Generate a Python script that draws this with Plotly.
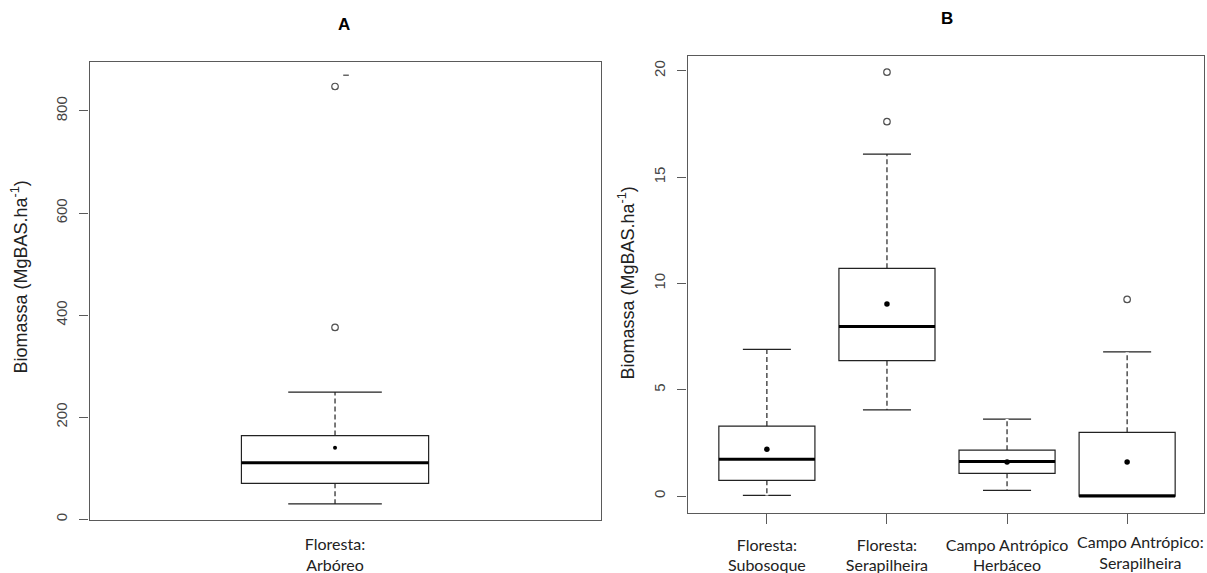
import plotly.graph_objects as go

# ---------------- data ----------------
# Panel A
cats_A = ["Floresta:<br>Arbóreo"]
pos_A = [1]
A_low = [30]
A_q1 = [70.5]
A_med = [111]
A_q3 = [164]
A_up = [249]
A_mean = [140]
A_out_x = [1, 1]
A_out_y = [376, 848]
A_stray_x = [1.047]
A_stray_y = [870]

# Panel B
cats_B = ["Floresta:<br>Subosoque", "Floresta:<br>Serapilheira",
          "Campo Antrópico<br>Herbáceo", "Campo Antrópico:<br>Serapilheira"]
pos_B = [1, 2, 3, 4]
B_low = [0.03, 4.05, 0.27, 0.0]
B_q1 = [0.74, 6.37, 1.07, 0.0]
B_med = [1.73, 7.97, 1.63, 0.0]
B_q3 = [3.29, 10.71, 2.16, 3.0]
B_up = [6.9, 16.08, 3.62, 6.78]
B_mean = [2.2, 9.04, 1.6, 1.6]
B_out_x = [2, 2, 4]
B_out_y = [17.61, 19.94, 9.25]

ticks_A = [0, 200, 400, 600, 800]
ticks_B = [0, 5, 10, 15, 20]

BOXW = 0.8
BOX_LINE = "#222222"
FRAME = "#5a5a5a"

fig = go.Figure()


def add_panel(xa, ya, pos, low, q1, med, q3, up, mean, ox, oy, mean_size):
    fig.add_trace(go.Box(
        x=pos, lowerfence=low, q1=q1, median=med, q3=q3, upperfence=up,
        width=BOXW, whiskerwidth=0.5, boxpoints=False,
        fillcolor="white", line=dict(color=BOX_LINE, width=1.2),
        xaxis=xa, yaxis=ya, showlegend=False, hoverinfo="skip"))
    # dashed whiskers: white dash overlay over the solid whisker
    wx, wy = [], []
    for p, lo, a, b, hi in zip(pos, low, q1, q3, up):
        if hi > b:
            wx += [p, p, None]
            wy += [b, hi, None]
        if lo < a:
            wx += [p, p, None]
            wy += [a, lo, None]
    fig.add_trace(go.Scatter(
        x=wx, y=wy, mode="lines",
        line=dict(color="white", width=3, dash="0px,5px,3px,0px"),
        xaxis=xa, yaxis=ya, showlegend=False, hoverinfo="skip"))
    # thick median
    mx, my = [], []
    for p, m in zip(pos, med):
        mx += [p - BOXW / 2, p + BOXW / 2, None]
        my += [m, m, None]
    fig.add_trace(go.Scatter(
        x=mx, y=my, mode="lines", line=dict(color="black", width=3),
        xaxis=xa, yaxis=ya, showlegend=False, hoverinfo="skip"))
    # means
    fig.add_trace(go.Scatter(
        x=pos, y=mean, mode="markers",
        marker=dict(color="black", size=mean_size, symbol="circle"),
        xaxis=xa, yaxis=ya, showlegend=False, hoverinfo="skip"))
    # outliers
    fig.add_trace(go.Scatter(
        x=ox, y=oy, mode="markers",
        marker=dict(symbol="circle-open", size=6.5, color="#505050",
                    line=dict(width=1.2, color="#505050")),
        xaxis=xa, yaxis=ya, showlegend=False, hoverinfo="skip"))


add_panel("x", "y", pos_A, A_low, A_q1, A_med, A_q3, A_up, A_mean,
          A_out_x, A_out_y, 4)
fig.add_trace(go.Scatter(
    x=A_stray_x, y=A_stray_y, mode="markers",
    marker=dict(symbol="line-ew", size=4, line=dict(width=1.5, color="#666")),
    showlegend=False, hoverinfo="skip"))
add_panel("x2", "y2", pos_B, B_low, B_q1, B_med, B_q3, B_up, B_mean,
          B_out_x, B_out_y, 5.5)

ytick_font = dict(family="Liberation Sans, Arial, sans-serif", size=15, color="#444444")
xtick_font = dict(family="Lato, sans-serif", size=16, color="#222222")

common_y = dict(showgrid=False, zeroline=False, showline=True, mirror=True,
                linecolor=FRAME, linewidth=1.3, ticks="outside", ticklen=9,
                tickcolor=FRAME, tickwidth=1, tickangle=-90, tickfont=ytick_font,
                ticklabelstandoff=6, automargin=False)
common_x = dict(showgrid=False, zeroline=False, showline=True, mirror=True,
                linecolor=FRAME, linewidth=1.3, tickfont=xtick_font,
                tickangle=0, automargin=False)

# the last category label sits a little right of its tick in the original,
# so it is drawn as an annotation anchored on that tick
ticktext_B = cats_B[:3] + [""]

fig.update_layout(
    width=1207, height=573,
    margin=dict(l=0, r=0, t=0, b=0, autoexpand=False),
    paper_bgcolor="white", plot_bgcolor="white",
    xaxis=dict(domain=[0.0742, 0.498], range=[-0.049, 2.137],
               tickvals=pos_A, ticktext=cats_A, ticks="", ticklabelstandoff=10,
               **common_x),
    yaxis=dict(domain=[0.0925, 0.8918], range=[-1.4, 896], tickvals=ticks_A,
               **common_y),
    xaxis2=dict(domain=[0.5697, 0.9975], range=[0.34, 4.64], anchor="y2",
                tickvals=pos_B, ticktext=ticktext_B, ticks="outside", ticklen=10,
                tickcolor=FRAME, ticklabelstandoff=7, **common_x),
    yaxis2=dict(domain=[0.1042, 0.9023], range=[-0.81, 20.7], anchor="x2",
                tickvals=ticks_B, **common_y),
)

fig.add_annotation(text=cats_B[3], x=pos_B[3], xref="x2", xshift=13,
                   y=1 - 551.5 / 573, yref="paper", showarrow=False,
                   font=xtick_font, xanchor="center", yanchor="middle", borderpad=0)

title_font = dict(family="Liberation Sans, Arial, sans-serif", size=17, color="black")
ylab_font = dict(family="Liberation Sans, Arial, sans-serif", size=18, color="#222222")
fig.add_annotation(text="<b>A</b>", x=344 / 1207, y=1 - 24 / 573, xref="paper", yref="paper",
                   showarrow=False, font=title_font, xanchor="center", yanchor="middle")
fig.add_annotation(text="<b>B</b>", x=947 / 1207, y=1 - 18 / 573, xref="paper", yref="paper",
                   showarrow=False, font=title_font, xanchor="center", yanchor="middle")
ylabel = "Biomassa (MgBAS.ha<sup>-1</sup>)"
fig.add_annotation(text=ylabel, x=20 / 1207, y=1 - 277.5 / 573, xref="paper", yref="paper",
                   showarrow=False, font=ylab_font, textangle=-90,
                   xanchor="center", yanchor="middle")
fig.add_annotation(text=ylabel, x=627 / 1207, y=1 - 283.5 / 573, xref="paper", yref="paper",
                   showarrow=False, font=ylab_font, textangle=-90,
                   xanchor="center", yanchor="middle")

fig.write_html("out.html", config={"displayModeBar": False},
               post_script="document.body.style.margin='0';document.body.style.overflow='hidden';")
